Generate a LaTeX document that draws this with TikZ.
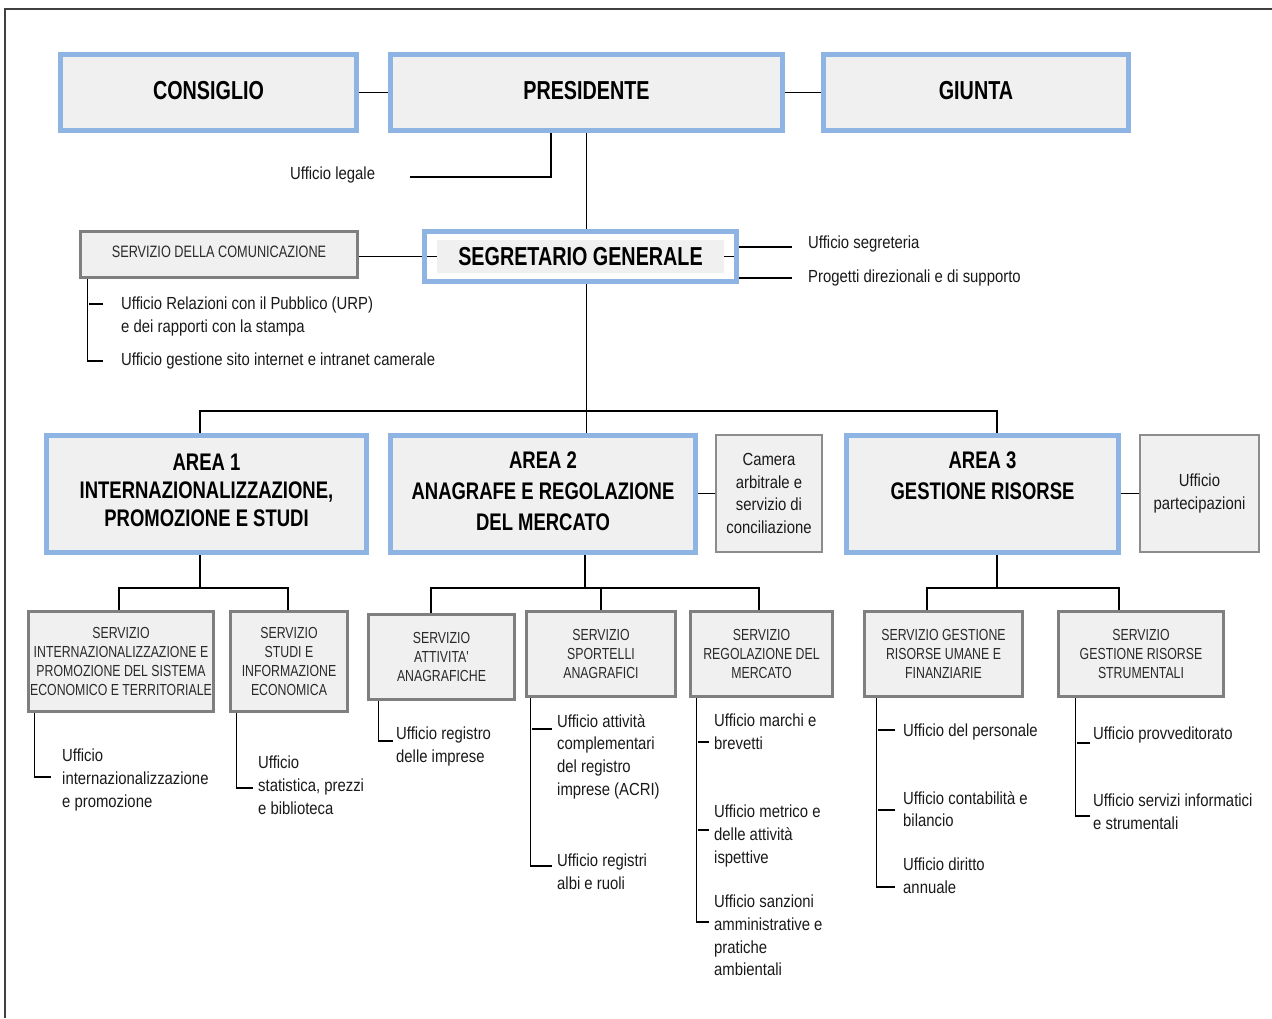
\documentclass[tikz,border=0pt]{standalone}
\usepackage{fontspec}
\setmainfont[FakeStretch=0.85]{Liberation Sans}
\newfontfamily\narrowf[FakeStretch=0.77]{Liberation Sans}
\newfontfamily\titlefam[FakeStretch=0.76]{Liberation Sans}
\pgfdeclarelayer{bg}
\pgfsetlayers{bg,main}
\definecolor{boxblue}{HTML}{8DB4E2}
\definecolor{boxfill}{HTML}{F0F0F0}
\definecolor{boxgray}{HTML}{7F7F7F}
\definecolor{framec}{HTML}{404040}
\definecolor{txt}{HTML}{1A1A1A}
\definecolor{svctxt}{HTML}{2A2A2A}
\newcommand\titlef{\titlefam\bfseries\fontsize{26}{30}\selectfont}
\newcommand\areaf{\narrowf\bfseries\fontsize{24}{31}\selectfont}
\newcommand\svcf{\narrowf\fontsize{16}{19.3}\selectfont}
\newcommand\subf{\fontsize{17.5}{22.7}\selectfont}
\begin{document}
\begin{tikzpicture}[x=1pt,y=-1pt,
 bluebox/.style={draw=boxblue, line width=5pt, fill=boxfill, inner sep=0pt, align=center, text=black},
 graybox/.style={draw=boxgray, line width=3pt, fill=boxfill, inner sep=0pt, align=center, font=\svcf, text=svctxt},
 thinbox/.style={draw=boxgray!90, line width=1.5pt, fill=boxfill, inner sep=0pt, align=center, font=\subf, text=txt},
 lbl/.style={anchor=north west, inner sep=0pt, align=left, font=\subf, text=txt},
 lbl1/.style={anchor=west, inner sep=0pt, font=\subf, text=txt},
 conn/.style={draw=black, line width=1.3pt},
]
\useasboundingbox (0,0) rectangle (1272,1018);

% top row
\node[bluebox, minimum width=296pt, minimum height=76pt, font=\titlef] (consiglio) at (208.5,92.5) {\raisebox{3.5pt}{CONSIGLIO}};
\node[bluebox, minimum width=392pt, minimum height=76pt, font=\titlef] (presidente) at (586.5,92.5) {\raisebox{3.5pt}{PRESIDENTE}};
\node[bluebox, minimum width=305pt, minimum height=76pt, font=\titlef] (giunta) at (976,92.5) {\raisebox{3.5pt}{GIUNTA}};

% segretario
\node[draw=boxblue, line width=5pt, minimum width=312pt, minimum height=50pt, inner sep=0pt] (segr) at (580.5,256.5) {};
\node[fill=boxfill, minimum width=287pt, minimum height=33pt, inner sep=0pt, font=\titlef] (segrin) at (580.5,256.5) {SEGRETARIO GENERALE};
\node[graybox, minimum width=277pt, minimum height=46pt, font=\narrowf\fontsize{16.5}{19}\selectfont] (comunic) at (219,254.5) {\raisebox{5pt}{SERVIZIO DELLA COMUNICAZIONE}};

% areas
\node[bluebox, minimum width=320pt, minimum height=117pt, font=\narrowf\bfseries\fontsize{24}{28}\selectfont] (area1) at (206.5,494) {AREA 1\\INTERNAZIONALIZZAZIONE,\\PROMOZIONE E STUDI\\[-20pt]\mbox{}};
\node[bluebox, minimum width=305pt, minimum height=117pt, font=\areaf] (area2) at (543,494) {AREA 2\\ANAGRAFE E REGOLAZIONE\\DEL MERCATO\\[-25pt]\mbox{}};
\node[bluebox, minimum width=272pt, minimum height=117pt, font=\areaf] (area3) at (982.5,494) {AREA 3\\GESTIONE RISORSE\\[6pt]\mbox{}};
\node[thinbox, minimum width=106pt, minimum height=117pt] (camera) at (769,493.5) {Camera\\arbitrale e\\servizio di\\conciliazione};
\node[thinbox, minimum width=119pt, minimum height=117pt] (partecip) at (1199.5,493.5) {Ufficio\\partecipazioni};

% services
\node[graybox, minimum width=185pt, minimum height=100pt] (s1) at (121,661.5) {SERVIZIO\\INTERNAZIONALIZZAZIONE E\\PROMOZIONE DEL SISTEMA\\ECONOMICO E TERRITORIALE};
\node[graybox, minimum width=117pt, minimum height=100pt] (s2) at (289,661.5) {SERVIZIO\\STUDI E\\INFORMAZIONE\\ECONOMICA};
\node[graybox, minimum width=146pt, minimum height=85pt] (s3) at (441.5,657) {SERVIZIO\\ATTIVITA'\\ANAGRAFICHE};
\node[graybox, minimum width=149pt, minimum height=85pt] (s4) at (601,654) {SERVIZIO\\SPORTELLI\\ANAGRAFICI};
\node[graybox, minimum width=142pt, minimum height=85pt] (s5) at (761.5,654) {SERVIZIO\\REGOLAZIONE DEL\\MERCATO};
\node[graybox, minimum width=158pt, minimum height=85pt] (s6) at (943.5,654) {SERVIZIO GESTIONE\\RISORSE UMANE E\\FINANZIARIE};
\node[graybox, minimum width=165pt, minimum height=85pt] (s7) at (1141,654) {SERVIZIO\\GESTIONE RISORSE\\STRUMENTALI};

% labels
\node[lbl1] (legale) at (290,175) {Ufficio legale};
\node[lbl1] (useg) at (808,244) {Ufficio segreteria};
\node[lbl1] (progetti) at (808,278) {Progetti direzionali e di supporto};
\node[lbl] (urp) at (121,297) {Ufficio Relazioni con il Pubblico (URP)\\e dei rapporti con la stampa};
\node[lbl1] (sito) at (121,361) {Ufficio gestione sito internet e intranet camerale};
\node[lbl] (u11) at (62,749) {Ufficio\\internazionalizzazione\\e promozione};
\node[lbl] (u21) at (258,756) {Ufficio\\statistica, prezzi\\e biblioteca};
\node[lbl] (u31) at (396,727) {Ufficio registro\\delle imprese};
\node[lbl] (u41) at (557,714) {Ufficio attività\\complementari\\del registro\\imprese (ACRI)};
\node[lbl] (u42) at (557,854) {Ufficio registri\\albi e ruoli};
\node[lbl] (u51) at (714,714) {Ufficio marchi e\\brevetti};
\node[lbl] (u52) at (714,805) {Ufficio metrico e\\delle attività\\ispettive};
\node[lbl] (u53) at (714,895) {Ufficio sanzioni\\amministrative e\\pratiche\\ambientali};
\node[lbl] (u61) at (903,724) {Ufficio del personale};
\node[lbl] (u62) at (903,791) {Ufficio contabilità e\\bilancio};
\node[lbl] (u63) at (903,858) {Ufficio diritto\\annuale};
\node[lbl] (u71) at (1093,727) {Ufficio provveditorato};
\node[lbl] (u72) at (1093,794) {Ufficio servizi informatici\\e strumentali};

% free-end coordinates
\coordinate (legend) at (410,177);
\coordinate (busy) at (0,411);
\coordinate (sg1) at (792,247);
\coordinate (sg2) at (792,278);
\coordinate (c1) at (103,304);
\coordinate (c2) at (103,361);
\coordinate (b1) at (200,588);
\coordinate (b2) at (585,588);
\coordinate (b3) at (997,588);
\coordinate (t11) at (51,777);
\coordinate (t21) at (253,788);
\coordinate (t31) at (393,741);
\coordinate (t41) at (552,729);
\coordinate (t42) at (552,866);
\coordinate (t51) at (709,742);
\coordinate (t52) at (709,830);
\coordinate (t53) at (709,922);
\coordinate (t61) at (895,730);
\coordinate (t62) at (895,810);
\coordinate (t63) at (895,887);
\coordinate (t71) at (1090,743);
\coordinate (t72) at (1090,816);

\begin{pgfonlayer}{bg}
\fill[white] (0,0) rectangle (1272,1018);
\draw[framec, line width=2pt] (5,1018) -- (5,9) -- (1272,9);
\draw[conn] (consiglio.east) -- (presidente.west);
\draw[conn] (presidente.east) -- (giunta.west);
\draw[conn] ([xshift=-35.5pt]presidente.south) |- (legend);
\draw[conn] (presidente.south) -- (presidente.south |- segr.north);
\draw[conn] (presidente.south |- segr.south) -- (presidente.south |- area2.north);
\draw[conn] ([xshift=-6.5pt]area1.north) |- (presidente.south |- busy) -| ([xshift=14.5pt]area3.north);
\draw[conn] (comunic.east |- segr.west) -- (segrin.west);
\draw[conn] (segrin.east) -- (segr.east);
\draw[conn] (sg1 -| segr.east) -- (sg1);
\draw[conn] (sg2 -| segr.east) -- (sg2);
\draw[conn] ([xshift=8.5pt]comunic.south west) |- (c2);
\draw[conn] (c1) -- ++(-14,0);
\draw[conn] (area2.east |- camera.west) -- (camera.west);
\draw[conn] (area3.east |- partecip.west) -- (partecip.west);
\draw[conn] ([xshift=-6.5pt]area1.south) -- (b1);
\draw[conn] ([xshift=-2pt]s1.north) |- (b1) -| ([xshift=-1pt]s2.north);
\draw[conn] ([xshift=42pt]area2.south) -- (b2);
\draw[conn] ([xshift=-10.5pt]s3.north) |- (b2) -| ([xshift=-2.5pt]s5.north);
\draw[conn] (s4.north) -- (s4.north |- b2);
\draw[conn] ([xshift=14.5pt]area3.south) -- (b3);
\draw[conn] ([xshift=-16.5pt]s6.north) |- (b3) -| ([xshift=-22pt]s7.north);
\draw[conn] ([xshift=7.5pt]s1.south west) |- (t11);
\draw[conn] ([xshift=7.5pt]s2.south west) |- (t21);
\draw[conn] ([xshift=11.5pt]s3.south west) |- (t31);
\draw[conn] ([xshift=5.5pt]s4.south west) |- (t42);
\draw[conn] (t41) -- ++(-20,0);
\draw[conn] ([xshift=7.5pt]s5.south west) |- (t53);
\draw[conn] (t51) -- ++(-11,0);
\draw[conn] (t52) -- ++(-11,0);
\draw[conn] ([xshift=13.5pt]s6.south west) |- (t63);
\draw[conn] (t61) -- ++(-17,0);
\draw[conn] (t62) -- ++(-17,0);
\draw[conn] ([xshift=18.5pt]s7.south west) |- (t72);
\draw[conn] (t71) -- ++(-13,0);
\end{pgfonlayer}
\end{tikzpicture}
\end{document}
